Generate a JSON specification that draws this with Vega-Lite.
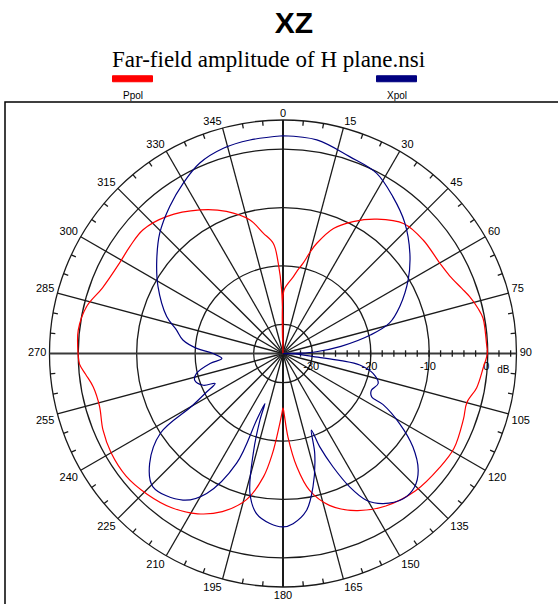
{
  "$schema": "https://vega.github.io/schema/vega-lite/v6.json",
  "width": 558,
  "height": 510,
  "autosize": "none",
  "padding": {"left": 5, "top": 102, "right": 0, "bottom": 0},
  "background": "white",
  "config": {
    "view": {"stroke": "#000000", "strokeWidth": 1.5},
    "text": {"font": "Liberation Sans", "fontSize": 11, "color": "#000000"}
  },
  "title": {
    "text": "XZ",
    "font": "Liberation Sans",
    "fontSize": 30,
    "fontWeight": "bold",
    "color": "#000000",
    "anchor": "middle",
    "frame": "group",
    "dx": 10,
    "dy": 31,
    "offset": 17,
    "baseline": "alphabetic"
  },
  "datasets": {
    "pattern": [
      {"pol": "Ppol", "angle": 0, "dB": -35},
      {"pol": "Ppol", "angle": 0.9, "dB": -24.2},
      {"pol": "Ppol", "angle": 4, "dB": -23},
      {"pol": "Ppol", "angle": 7.5, "dB": -21.8},
      {"pol": "Ppol", "angle": 10, "dB": -20.5},
      {"pol": "Ppol", "angle": 12.5, "dB": -19.2},
      {"pol": "Ppol", "angle": 15, "dB": -17},
      {"pol": "Ppol", "angle": 17, "dB": -15.3},
      {"pol": "Ppol", "angle": 22, "dB": -11.9},
      {"pol": "Ppol", "angle": 28, "dB": -9.4},
      {"pol": "Ppol", "angle": 35, "dB": -6.9},
      {"pol": "Ppol", "angle": 43, "dB": -4.6},
      {"pol": "Ppol", "angle": 51, "dB": -4.1},
      {"pol": "Ppol", "angle": 60, "dB": -4.0},
      {"pol": "Ppol", "angle": 65, "dB": -3.5},
      {"pol": "Ppol", "angle": 70, "dB": -2.4},
      {"pol": "Ppol", "angle": 73, "dB": -1.6},
      {"pol": "Ppol", "angle": 77, "dB": -0.7},
      {"pol": "Ppol", "angle": 80, "dB": -0.2},
      {"pol": "Ppol", "angle": 87, "dB": -0.1},
      {"pol": "Ppol", "angle": 90, "dB": 0},
      {"pol": "Ppol", "angle": 94, "dB": -0.6},
      {"pol": "Ppol", "angle": 100, "dB": -1.3},
      {"pol": "Ppol", "angle": 105, "dB": -2.4},
      {"pol": "Ppol", "angle": 110, "dB": -2.1},
      {"pol": "Ppol", "angle": 119, "dB": -1.5},
      {"pol": "Ppol", "angle": 126, "dB": -1.8},
      {"pol": "Ppol", "angle": 136, "dB": -2.3},
      {"pol": "Ppol", "angle": 146, "dB": -3.5},
      {"pol": "Ppol", "angle": 155, "dB": -5.3},
      {"pol": "Ppol", "angle": 163, "dB": -7.8},
      {"pol": "Ppol", "angle": 169, "dB": -11.1},
      {"pol": "Ppol", "angle": 173, "dB": -15.4},
      {"pol": "Ppol", "angle": 176.6, "dB": -20.7},
      {"pol": "Ppol", "angle": 179, "dB": -24.8},
      {"pol": "Ppol", "angle": 180, "dB": -25.7},
      {"pol": "Ppol", "angle": 181, "dB": -24.8},
      {"pol": "Ppol", "angle": 183, "dB": -22.5},
      {"pol": "Ppol", "angle": 186, "dB": -17.8},
      {"pol": "Ppol", "angle": 189, "dB": -13.6},
      {"pol": "Ppol", "angle": 194, "dB": -9.2},
      {"pol": "Ppol", "angle": 201, "dB": -6.0},
      {"pol": "Ppol", "angle": 208, "dB": -3.9},
      {"pol": "Ppol", "angle": 216, "dB": -2.4},
      {"pol": "Ppol", "angle": 224, "dB": -1.5},
      {"pol": "Ppol", "angle": 232, "dB": -0.9},
      {"pol": "Ppol", "angle": 240, "dB": -1.0},
      {"pol": "Ppol", "angle": 247, "dB": -1.5},
      {"pol": "Ppol", "angle": 254, "dB": -2.3},
      {"pol": "Ppol", "angle": 260, "dB": -2.0},
      {"pol": "Ppol", "angle": 264, "dB": -1.0},
      {"pol": "Ppol", "angle": 267, "dB": -0.1},
      {"pol": "Ppol", "angle": 270, "dB": 0.1},
      {"pol": "Ppol", "angle": 276.5, "dB": 0.3},
      {"pol": "Ppol", "angle": 283.4, "dB": -0.4},
      {"pol": "Ppol", "angle": 290, "dB": -2.1},
      {"pol": "Ppol", "angle": 299, "dB": -3.0},
      {"pol": "Ppol", "angle": 305, "dB": -3.0},
      {"pol": "Ppol", "angle": 311.5, "dB": -3.0},
      {"pol": "Ppol", "angle": 319.6, "dB": -4.2},
      {"pol": "Ppol", "angle": 330, "dB": -6.6},
      {"pol": "Ppol", "angle": 338.3, "dB": -8.8},
      {"pol": "Ppol", "angle": 346, "dB": -11.4},
      {"pol": "Ppol", "angle": 350.7, "dB": -14.1},
      {"pol": "Ppol", "angle": 355, "dB": -16.1},
      {"pol": "Ppol", "angle": 357, "dB": -19.5},
      {"pol": "Ppol", "angle": 358.8, "dB": -24.2},
      {"pol": "Ppol", "angle": 360, "dB": -35},
      {"pol": "Xpol", "angle": 0, "dB": 2.3},
      {"pol": "Xpol", "angle": 9, "dB": 2.05},
      {"pol": "Xpol", "angle": 18.7, "dB": 0.6},
      {"pol": "Xpol", "angle": 27.4, "dB": -0.2},
      {"pol": "Xpol", "angle": 35, "dB": -2.2},
      {"pol": "Xpol", "angle": 43, "dB": -4.4},
      {"pol": "Xpol", "angle": 51.7, "dB": -7.3},
      {"pol": "Xpol", "angle": 59.5, "dB": -10.1},
      {"pol": "Xpol", "angle": 68, "dB": -13.4},
      {"pol": "Xpol", "angle": 74, "dB": -16.0},
      {"pol": "Xpol", "angle": 78, "dB": -19.6},
      {"pol": "Xpol", "angle": 83, "dB": -25},
      {"pol": "Xpol", "angle": 87, "dB": -29.3},
      {"pol": "Xpol", "angle": 89, "dB": -32},
      {"pol": "Xpol", "angle": 90, "dB": -35},
      {"pol": "Xpol", "angle": 92, "dB": -33},
      {"pol": "Xpol", "angle": 96, "dB": -29},
      {"pol": "Xpol", "angle": 97, "dB": -25},
      {"pol": "Xpol", "angle": 98.5, "dB": -21.7},
      {"pol": "Xpol", "angle": 102.5, "dB": -19.2},
      {"pol": "Xpol", "angle": 107.5, "dB": -17.9},
      {"pol": "Xpol", "angle": 112.6, "dB": -18.6},
      {"pol": "Xpol", "angle": 116, "dB": -18.1},
      {"pol": "Xpol", "angle": 117, "dB": -15.8},
      {"pol": "Xpol", "angle": 121, "dB": -11.7},
      {"pol": "Xpol", "angle": 125.7, "dB": -7.6},
      {"pol": "Xpol", "angle": 130.8, "dB": -4.4},
      {"pol": "Xpol", "angle": 135.4, "dB": -2.9},
      {"pol": "Xpol", "angle": 140.4, "dB": -2.7},
      {"pol": "Xpol", "angle": 146.3, "dB": -4.1},
      {"pol": "Xpol", "angle": 150.4, "dB": -6.1},
      {"pol": "Xpol", "angle": 153.4, "dB": -9.4},
      {"pol": "Xpol", "angle": 156.2, "dB": -13.8},
      {"pol": "Xpol", "angle": 158.5, "dB": -17.8},
      {"pol": "Xpol", "angle": 159.7, "dB": -21.0},
      {"pol": "Xpol", "angle": 162.4, "dB": -17.0},
      {"pol": "Xpol", "angle": 167.3, "dB": -11.6},
      {"pol": "Xpol", "angle": 171.5, "dB": -7.8},
      {"pol": "Xpol", "angle": 176.6, "dB": -5.8},
      {"pol": "Xpol", "angle": 180, "dB": -5.3},
      {"pol": "Xpol", "angle": 184.4, "dB": -5.8},
      {"pol": "Xpol", "angle": 189.4, "dB": -7.2},
      {"pol": "Xpol", "angle": 193.3, "dB": -10.4},
      {"pol": "Xpol", "angle": 196.6, "dB": -17.2},
      {"pol": "Xpol", "angle": 199.1, "dB": -23.0},
      {"pol": "Xpol", "angle": 199.9, "dB": -25.9},
      {"pol": "Xpol", "angle": 201.6, "dB": -22.8},
      {"pol": "Xpol", "angle": 202.9, "dB": -14.6},
      {"pol": "Xpol", "angle": 208.6, "dB": -7.7},
      {"pol": "Xpol", "angle": 214.3, "dB": -4.6},
      {"pol": "Xpol", "angle": 224.3, "dB": -3.1},
      {"pol": "Xpol", "angle": 230.5, "dB": -5.4},
      {"pol": "Xpol", "angle": 237, "dB": -10},
      {"pol": "Xpol", "angle": 240, "dB": -17},
      {"pol": "Xpol", "angle": 243.3, "dB": -20.4},
      {"pol": "Xpol", "angle": 246.2, "dB": -22.3},
      {"pol": "Xpol", "angle": 248.3, "dB": -20.3},
      {"pol": "Xpol", "angle": 253.1, "dB": -19.2},
      {"pol": "Xpol", "angle": 257, "dB": -19.8},
      {"pol": "Xpol", "angle": 262.2, "dB": -22.4},
      {"pol": "Xpol", "angle": 265.3, "dB": -24.5},
      {"pol": "Xpol", "angle": 270, "dB": -23.0},
      {"pol": "Xpol", "angle": 273.4, "dB": -20.2},
      {"pol": "Xpol", "angle": 277.7, "dB": -17.7},
      {"pol": "Xpol", "angle": 282.5, "dB": -16.3},
      {"pol": "Xpol", "angle": 287.6, "dB": -14.1},
      {"pol": "Xpol", "angle": 298.2, "dB": -10.7},
      {"pol": "Xpol", "angle": 306.5, "dB": -8.1},
      {"pol": "Xpol", "angle": 314.3, "dB": -5.5},
      {"pol": "Xpol", "angle": 322.4, "dB": -3.2},
      {"pol": "Xpol", "angle": 329.6, "dB": -1.2},
      {"pol": "Xpol", "angle": 336.4, "dB": 0.6},
      {"pol": "Xpol", "angle": 343.8, "dB": 1.6},
      {"pol": "Xpol", "angle": 351.2, "dB": 2.0},
      {"pol": "Xpol", "angle": 360, "dB": 2.3}
    ],
    "rings": [{"dB": -30}, {"dB": -20}, {"dB": -10}, {"dB": 0}, {"dB": 5}],
    "spokes": [
      {"angle": 0}, {"angle": 15}, {"angle": 30}, {"angle": 45}, {"angle": 60}, {"angle": 75},
      {"angle": 90}, {"angle": 105}, {"angle": 120}, {"angle": 135}, {"angle": 150}, {"angle": 165},
      {"angle": 180}, {"angle": 195}, {"angle": 210}, {"angle": 225}, {"angle": 240}, {"angle": 255},
      {"angle": 270}, {"angle": 285}, {"angle": 300}, {"angle": 315}, {"angle": 330}, {"angle": 345}
    ],
    "minor": [
      {"angle": 5}, {"angle": 10}, {"angle": 20}, {"angle": 25}, {"angle": 35}, {"angle": 40},
      {"angle": 50}, {"angle": 55}, {"angle": 65}, {"angle": 70}, {"angle": 80}, {"angle": 85},
      {"angle": 95}, {"angle": 100}, {"angle": 110}, {"angle": 115}, {"angle": 125}, {"angle": 130},
      {"angle": 140}, {"angle": 145}, {"angle": 155}, {"angle": 160}, {"angle": 170}, {"angle": 175},
      {"angle": 185}, {"angle": 190}, {"angle": 200}, {"angle": 205}, {"angle": 215}, {"angle": 220},
      {"angle": 230}, {"angle": 235}, {"angle": 245}, {"angle": 250}, {"angle": 260}, {"angle": 265},
      {"angle": 275}, {"angle": 280}, {"angle": 290}, {"angle": 295}, {"angle": 305}, {"angle": 310},
      {"angle": 320}, {"angle": 325}, {"angle": 335}, {"angle": 340}, {"angle": 350}, {"angle": 355}
    ],
    "rticks": [
      {"dB": -32}, {"dB": -30}, {"dB": -28}, {"dB": -26}, {"dB": -24}, {"dB": -22}, {"dB": -20},
      {"dB": -18}, {"dB": -16}, {"dB": -14}, {"dB": -12}, {"dB": -10}, {"dB": -8}, {"dB": -6},
      {"dB": -4}, {"dB": -2}, {"dB": 0}, {"dB": 2}, {"dB": 4}
    ],
    "rlabels": [{"dB": -30, "label": "-30"}, {"dB": -20, "label": "-20"}, {"dB": -10, "label": "-10"}, {"dB": 0, "label": "0"}]
  },
  "layer": [
    {
      "data": {"name": "rings"},
      "transform": [{"calculate": "0", "as": "cx"}, {"calculate": "0", "as": "cy"}],
      "mark": {"type": "arc", "theta": 0, "theta2": 6.2832, "filled": false, "stroke": "#1a1a1a", "strokeWidth": 1.3},
      "encoding": {
        "x": {"field": "cx", "type": "quantitative", "scale": {"domain": [-47.62, 47.97], "nice": false, "zero": false}, "axis": null},
        "y": {"field": "cy", "type": "quantitative", "scale": {"domain": [-44.28, 43.08], "nice": false, "zero": false}, "axis": null},
        "radius": {"field": "dB", "type": "quantitative", "stack": null, "scale": {"type": "linear", "domain": [-35, 5], "range": [0, 233.5], "zero": false}},
        "radius2": {"value": 0}
      }
    },
    {
      "data": {"name": "spokes"},
      "transform": [
        {"calculate": "0", "as": "ox"},
        {"calculate": "0", "as": "oy"},
        {"calculate": "40 * sin(datum.angle * PI / 180)", "as": "sx"},
        {"calculate": "40 * cos(datum.angle * PI / 180)", "as": "sy"}
      ],
      "mark": {"type": "rule"},
      "encoding": {
        "x": {"field": "ox", "type": "quantitative", "axis": null},
        "y": {"field": "oy", "type": "quantitative", "axis": null},
        "x2": {"field": "sx"},
        "y2": {"field": "sy"},
        "color": {"condition": {"test": "datum.angle == 90 || datum.angle == 270", "value": "#3a3a3a"}, "value": "#1a1a1a"},
        "strokeWidth": {"condition": {"test": "datum.angle % 90 == 0", "value": 2}, "value": 1.3}
      }
    },
    {
      "data": {"name": "minor"},
      "transform": [
        {"calculate": "39.15 * sin(datum.angle * PI / 180)", "as": "ax"},
        {"calculate": "39.15 * cos(datum.angle * PI / 180)", "as": "ay"},
        {"calculate": "40 * sin(datum.angle * PI / 180)", "as": "bx"},
        {"calculate": "40 * cos(datum.angle * PI / 180)", "as": "by"}
      ],
      "mark": {"type": "rule", "color": "#1a1a1a", "strokeWidth": 1.3},
      "encoding": {
        "x": {"field": "ax", "type": "quantitative", "axis": null},
        "y": {"field": "ay", "type": "quantitative", "axis": null},
        "x2": {"field": "bx"},
        "y2": {"field": "by"}
      }
    },
    {
      "data": {"name": "rticks"},
      "transform": [
        {"calculate": "datum.dB + 35", "as": "rx"},
        {"calculate": "-0.55", "as": "ty1"},
        {"calculate": "0.55", "as": "ty2"}
      ],
      "mark": {"type": "rule", "color": "#1a1a1a", "strokeWidth": 1.3},
      "encoding": {
        "x": {"field": "rx", "type": "quantitative", "axis": null},
        "y": {"field": "ty1", "type": "quantitative", "axis": null},
        "y2": {"field": "ty2"}
      }
    },
    {
      "data": {"name": "rlabels"},
      "transform": [{"calculate": "datum.dB + 35", "as": "rx"}, {"calculate": "-1.3", "as": "ly"}],
      "mark": {"type": "text", "baseline": "top", "align": "center", "dx": -1, "fontSize": 11},
      "encoding": {
        "x": {"field": "rx", "type": "quantitative", "axis": null},
        "y": {"field": "ly", "type": "quantitative", "axis": null},
        "text": {"field": "label", "type": "nominal"}
      }
    },
    {
      "data": {"values": [{"unit": "dB", "dB": 1.7}]},
      "transform": [{"calculate": "datum.dB + 35", "as": "rx"}, {"calculate": "-1.9", "as": "ly"}],
      "mark": {"type": "text", "baseline": "top", "align": "left", "fontSize": 10},
      "encoding": {
        "x": {"field": "rx", "type": "quantitative", "axis": null},
        "y": {"field": "ly", "type": "quantitative", "axis": null},
        "text": {"field": "unit", "type": "nominal"}
      }
    },
    {
      "data": {"name": "spokes"},
      "transform": [
        {"calculate": "40.55 * sin(datum.angle * PI / 180)", "as": "lx"},
        {"calculate": "40.55 * cos(datum.angle * PI / 180)", "as": "ly"}
      ],
      "mark": {
        "type": "text",
        "fontSize": 11,
        "align": {"expr": "datum.angle == 0 || datum.angle == 180 ? 'center' : (datum.angle < 180 ? 'left' : 'right')"},
        "baseline": {"expr": "datum.angle == 90 || datum.angle == 270 ? 'middle' : ((datum.angle < 90 || datum.angle > 270) ? 'alphabetic' : 'top')"}
      },
      "encoding": {
        "x": {"field": "lx", "type": "quantitative", "axis": null},
        "y": {"field": "ly", "type": "quantitative", "axis": null},
        "text": {"field": "angle", "type": "quantitative", "format": "d"}
      }
    },
    {
      "data": {"name": "pattern"},
      "transform": [
        {"calculate": "max(0, datum.dB + 35) * sin(datum.angle * PI / 180)", "as": "px"},
        {"calculate": "max(0, datum.dB + 35) * cos(datum.angle * PI / 180)", "as": "py"}
      ],
      "mark": {"type": "line", "strokeWidth": 1.2, "interpolate": "catmull-rom"},
      "encoding": {
        "x": {"field": "px", "type": "quantitative", "axis": null},
        "y": {"field": "py", "type": "quantitative", "axis": null},
        "order": {"field": "angle", "type": "quantitative"},
        "color": {
          "field": "pol",
          "type": "nominal",
          "scale": {"domain": ["Ppol", "Xpol"], "range": ["#ff0000", "#000080"]},
          "legend": {
            "orient": "none",
            "legendX": 107,
            "legendY": -53,
            "direction": "horizontal",
            "padding": 0,
            "title": "Far-field amplitude of H plane.nsi",
            "titleFont": "Liberation Serif",
            "titleFontSize": 23,
            "titleFontWeight": "normal",
            "titleColor": "#000000",
            "titleLimit": 1000,
            "titlePadding": -14,
            "titleAnchor": "start",
            "symbolType": "M-1,-0.15L1,-0.15L1,0.15L-1,0.15Z",
            "symbolSize": 1600,
            "symbolStrokeWidth": 1,
            "labelFont": "Liberation Sans",
            "labelFontSize": 10,
            "labelColor": "#000000",
            "labelOffset": 0,
            "columnPadding": 219,
            "encode": {
              "symbols": {"update": {"fill": {"scale": "color", "field": "value"}, "stroke": {"value": "#000000"}, "strokeWidth": {"value": 1}, "opacity": {"value": 1}}},
              "labels": {"update": {"dx": {"value": -20}, "dy": {"value": 17}, "align": {"value": "center"}}}
            }
          }
        }
      }
    }
  ]
}
